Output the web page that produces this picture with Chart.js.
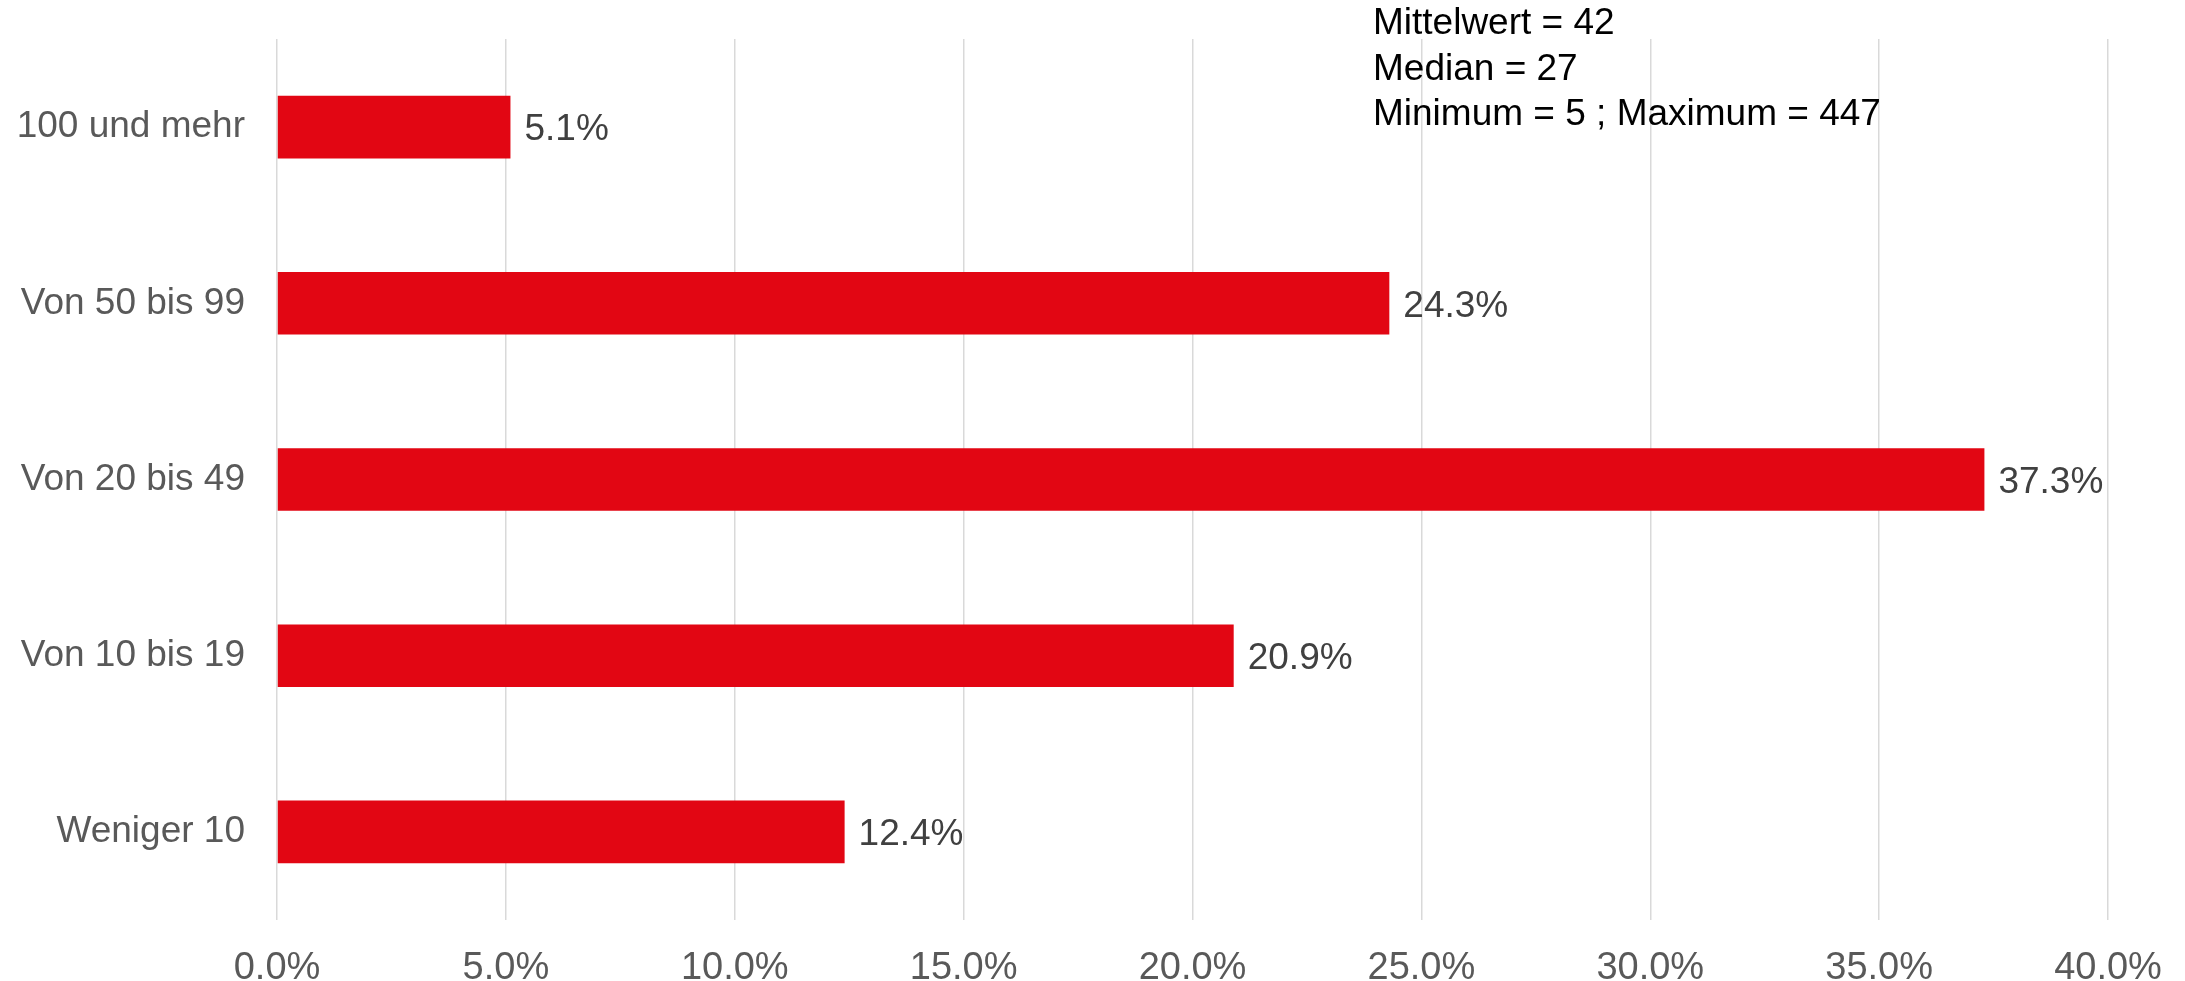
<!DOCTYPE html>
<html lang="de">
<head>
  <meta charset="UTF-8">
  <title>Mitarbeiter</title>
  <script src="https://cdn.jsdelivr.net/npm/chart.js"></script>
  <style>
    html, body {
      margin: 0;
      padding: 0;
      background: #ffffff;
      overflow: hidden;
    }
  </style>
</head>
<body>
  <canvas id="chart" width="2185" height="981"></canvas>

  <script>
    // Data
    const categories = ['100 und mehr', 'Von 50 bis 99', 'Von 20 bis 49', 'Von 10 bis 19', 'Weniger 10'];
    const shares = [5.1, 24.3, 37.3, 20.9, 12.4];
    const statLines = ['Mittelwert = 42', 'Median = 27', 'Minimum = 5 ; Maximum = 447'];

    const fontFamily = "'Liberation Sans', Arial, sans-serif";

    // value labels at the end of each bar
    const barLabels = {
      id: 'barLabels',
      afterDatasetsDraw(chart) {
        const ctx = chart.ctx;
        const meta = chart.getDatasetMeta(0);
        ctx.save();
        ctx.font = '37px ' + fontFamily;
        ctx.fillStyle = '#404040';
        ctx.textAlign = 'left';
        ctx.textBaseline = 'middle';
        meta.data.forEach((bar, i) => {
          ctx.fillText(shares[i].toFixed(1) + '%', bar.x + 14, bar.y + 3);
        });
        ctx.restore();
      }
    };

    // statistics text in the top right
    const statsText = {
      id: 'statsText',
      afterDraw(chart) {
        const ctx = chart.ctx;
        ctx.save();
        ctx.font = '37px ' + fontFamily;
        ctx.fillStyle = '#000000';
        ctx.textAlign = 'left';
        ctx.textBaseline = 'middle';
        statLines.forEach((line, i) => {
          ctx.fillText(line, 1373, 24 + i * 45.5);
        });
        ctx.restore();
      }
    };

    new Chart(document.getElementById('chart'), {
      type: 'bar',
      data: {
        labels: categories,
        datasets: [{
          data: shares,
          backgroundColor: '#e20613',
          barPercentage: 0.355,
          categoryPercentage: 1
        }]
      },
      options: {
        indexAxis: 'y',
        responsive: false,
        animation: false,
        events: [],
        layout: {
          padding: { top: 39, right: 77, left: 0, bottom: 0 }
        },
        plugins: {
          legend: { display: false },
          tooltip: { enabled: false }
        },
        scales: {
          x: {
            min: 0,
            max: 40,
            ticks: {
              stepSize: 5,
              padding: 26,
              color: '#595959',
              font: { family: fontFamily, size: 38 },
              callback: v => v.toFixed(1) + '%'
            },
            grid: {
              color: '#d9d9d9',
              lineWidth: 1.5,
              drawTicks: false
            },
            border: { display: false },
            afterFit(scale) {
              scale.height = 61;
              scale.paddingLeft = 0;
              scale.paddingRight = 0;
            }
          },
          y: {
            ticks: {
              padding: 32,
              color: '#595959',
              font: { family: fontFamily, size: 37 }
            },
            grid: { display: false, drawTicks: false },
            border: { display: false },
            afterFit(scale) {
              scale.width = 277;
              scale.paddingTop = 0;
              scale.paddingBottom = 0;
            }
          }
        }
      },
      plugins: [barLabels, statsText]
    });
  </script>
</body>
</html>
